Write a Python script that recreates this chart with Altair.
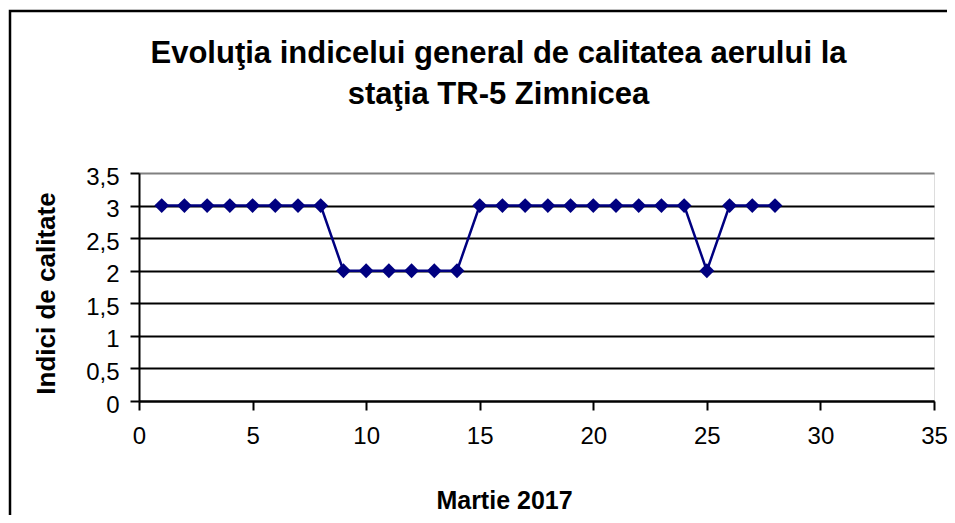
import altair as alt
import pandas as pd

days = list(range(1, 29))
index_values = [3, 3, 3, 3, 3, 3, 3, 3,
                2, 2, 2, 2, 2, 2,
                3, 3, 3, 3, 3, 3, 3, 3, 3, 3,
                2,
                3, 3, 3]
x_ticks = [0, 5, 10, 15, 20, 25, 30, 35]
y_ticks = [0, 0.5, 1, 1.5, 2, 2.5, 3, 3.5]

title_lines = ["Evoluţia indicelui general de calitatea aerului la", "staţia TR-5 Zimnicea"]
x_title = "Martie 2017"
y_title = "Indici de calitate"

df = pd.DataFrame({"zi": days, "indice": index_values})

FONT = "Liberation Sans"

x_axis = alt.Axis(
    values=x_ticks, grid=False, title=x_title,
    domainColor="black", domainWidth=2,
    tickColor="black", tickWidth=2, tickSize=9,
    labelFont=FONT, labelFontSize=24, labelColor="black", labelPadding=14,
    labelFlush=False, labelOverlap=False,
    titleFont=FONT, titleFontSize=25, titleFontWeight="bold", titleColor="black",
    titleX=365, titleY=107, titleBaseline="alphabetic", titleAnchor="middle",
)
y_axis = alt.Axis(
    values=y_ticks, title=y_title,
    grid=True,
    gridColor={"condition": {"test": "datum.value >= 3.5", "value": "#808080"}, "value": "black"},
    gridWidth=2,
    domainColor="black", domainWidth=2,
    tickColor="black", tickWidth=2, tickSize=9,
    labelFont=FONT, labelFontSize=24, labelColor="black", labelPadding=11,
    labelFlush=False, labelOverlap=False,
    labelExpr="replace(format(datum.value, '~g'), '.', ',')", labelOffset=4,
    titleFont=FONT, titleFontSize=26, titleFontWeight="bold", titleColor="black",
    titleAngle=-90, titleX=-93, titleY=120, titleBaseline="middle", titleAnchor="middle",
)

line = alt.Chart(df).mark_line(
    color="#000080", strokeWidth=2.5,
    point=alt.OverlayMarkDef(shape="diamond", size=220, filled=True, color="#000080"),
).encode(
    x=alt.X("zi:Q", scale=alt.Scale(domain=[0, 35], nice=False, zero=True), axis=x_axis),
    y=alt.Y("indice:Q", scale=alt.Scale(domain=[0, 3.5], nice=False), axis=y_axis),
)

frame = alt.Chart(pd.DataFrame({"f": [0]})).mark_rect(
    fill=None, stroke="black", strokeWidth=2.5, filled=False,
).encode(
    x=alt.value(-129), x2=alt.value(1000),
    y=alt.value(-162), y2=alt.value(600),
)

chart = alt.layer(frame, line).properties(
    width=795, height=228,
    padding={"left": 131, "top": 165, "right": 13, "bottom": 114},
    autosize=alt.AutoSizeParams(type="none"),
    title=alt.TitleParams(
        text=title_lines, font=FONT, fontSize=31, fontWeight="bold", color="black",
        anchor="middle", lineHeight=41, dx=-38, offset=0, dy=101,
    ),
).configure_view(
    fill="#C0C0C0", stroke="#808080", strokeWidth=3,
).configure(background="white")

chart.save("out.html", embed_options={"renderer": "svg", "actions": False})
